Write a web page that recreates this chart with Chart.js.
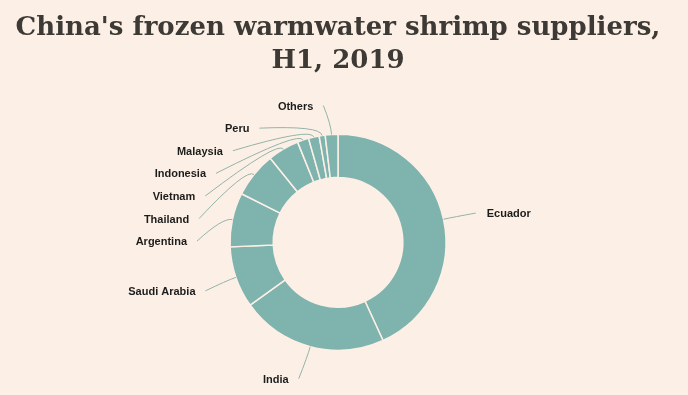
<!DOCTYPE html>
<html>
<head>
<meta charset="utf-8">
<script src="https://cdn.jsdelivr.net/npm/chart.js@4"></script>
<style>
  html, body { margin: 0; padding: 0; background: #fcf0e6; }
  #wrap { width: 688px; height: 395px; }
</style>
</head>
<body>
<div id="wrap"><canvas id="chart"></canvas></div>
<script>
// share of China's frozen warmwater shrimp imports, H1 2019 (%)
const suppliers = ["Ecuador", "India", "Saudi Arabia", "Argentina", "Thailand",
                   "Vietnam", "Indonesia", "Malaysia", "Peru", "Others"];
const shares = [43.2, 22.0, 9.2, 8.1, 6.8, 4.7, 1.7, 1.6, 0.9, 1.9];

const titleLines = ["China's frozen warmwater shrimp suppliers,", "H1, 2019"];

// labels outside the ring with leader lines, pushed apart when they crowd
const outerLabels = {
    id: 'outerLabels',
    afterDatasetsDraw(chart) {
        const ctx = chart.ctx;
        const arcs = chart.getDatasetMeta(0).data;
        if (!arcs.length) return;
        const cx = arcs[0].x, cy = arcs[0].y;
        const rx = 141, ry = 137, gap = 22.6;

        let items = arcs.map((a, i) => {
            const mid = (a.startAngle + a.endAngle) / 2;
            return {
                label: chart.data.labels[i],
                mid: mid,
                outer: a.outerRadius,
                right: Math.cos(mid) >= 0,
                y: cy + ry * Math.sin(mid) + (Math.sin(mid) > 0 ? 4 : 0)
            };
        });

        for (const side of [true, false]) {
            const group = items.filter(it => it.right === side).sort((a, b) => a.y - b.y);
            for (let i = 1; i < group.length; i++) {
                if (group[i].y < group[i - 1].y + gap) group[i].y = group[i - 1].y + gap;
            }
        }

        ctx.save();
        ctx.font = 'bold 11px "Liberation Sans", Arial, sans-serif';
        ctx.textBaseline = 'middle';
        for (const it of items) {
            const dx = Math.cos(it.mid), dy = Math.sin(it.mid);
            const span = it.y < cy ? 137.5 : 142;
            const t = Math.min(1, Math.abs(it.y - cy) / span);
            const x2 = cx + (it.right ? 1 : -1) * rx * Math.sqrt(1 - t * t);
            const x0 = cx + it.outer * dx, y0 = cy + it.outer * dy;
            const x1 = cx + (it.outer + 10) * dx, y1 = cy + (it.outer + 10) * dy;

            ctx.strokeStyle = '#93b3a8';
            ctx.lineWidth = 1;
            ctx.beginPath();
            ctx.moveTo(x0, y0);
            ctx.quadraticCurveTo(x1, y1, x2, it.y);
            ctx.stroke();

            ctx.fillStyle = '#1c1c1c';
            ctx.textAlign = it.right ? 'left' : 'right';
            ctx.fillText(it.label, x2 + (it.right ? 11 : -10), it.y + 1);
        }
        ctx.restore();
    }
};

new Chart(document.getElementById('chart'), {
    type: 'doughnut',
    data: {
        labels: suppliers,
        datasets: [{
            data: shares,
            backgroundColor: '#7fb3ae',
            borderColor: '#fcf0e6',
            borderWidth: 1.5,
            radius: 108,
            cutout: '60%'
        }]
    },
    options: {
        responsive: true,
        maintainAspectRatio: false,
        animation: false,
        layout: { padding: { left: 0, right: 12, top: 0, bottom: 0 } },
        plugins: {
            legend: { display: false },
            tooltip: { enabled: false },
            title: {
                display: true,
                text: titleLines,
                color: '#3d3935',
                font: { family: '"DejaVu Serif", Georgia, serif', size: 26, weight: 'bold', lineHeight: 1.3 },
                padding: { top: 11, bottom: 11 }
            }
        }
    },
    plugins: [outerLabels]
});
</script>
</body>
</html>
